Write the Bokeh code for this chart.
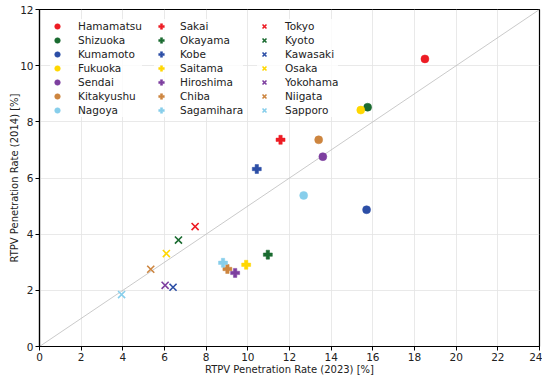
from bokeh.plotting import figure
from bokeh.models import Legend, LegendItem, FixedTicker
from bokeh.embed import file_html
from bokeh.resources import INLINE

cities_circle = ["Hamamatsu", "Shizuoka", "Kumamoto", "Fukuoka", "Sendai", "Kitakyushu", "Nagoya"]
x_circle = [18.5, 15.75, 15.7, 15.42, 13.6, 13.4, 12.68]
y_circle = [10.24, 8.52, 4.87, 8.42, 6.76, 7.36, 5.38]

cities_plus = ["Sakai", "Okayama", "Kobe", "Saitama", "Hiroshima", "Chiba", "Sagamihara"]
x_plus = [11.57, 10.96, 10.43, 9.92, 9.39, 9.02, 8.81]
y_plus = [7.36, 3.27, 6.32, 2.91, 2.62, 2.76, 2.98]

cities_x = ["Tokyo", "Kyoto", "Kawasaki", "Osaka", "Yokohama", "Niigata", "Sapporo"]
x_x = [7.47, 6.67, 6.41, 6.09, 6.03, 5.34, 3.94]
y_x = [4.27, 3.79, 2.11, 3.31, 2.18, 2.75, 1.85]

colors = ["#ed1c24", "#1a6b30", "#2c4ea6", "#ffd700", "#7d3f9f", "#cd853f", "#87ceeb"]

x_ticks = list(range(0, 25, 2))
y_ticks = list(range(0, 13, 2))
diag_x = [0, 24]
diag_y = [0, 12]

FONT = "DejaVu Sans"

p = figure(frame_width=500, frame_height=337, x_range=(0, 24), y_range=(0, 12),
           output_backend="svg", toolbar_location=None,
           min_border_left=39, min_border_right=3, min_border_top=9, min_border_bottom=24)
p.background_fill_color = "white"
p.border_fill_color = "white"
p.outline_line_color = "black"
p.outline_line_width = 1.2

p.xaxis.ticker = FixedTicker(ticks=x_ticks)
p.yaxis.ticker = FixedTicker(ticks=y_ticks)
for ax in (p.xaxis[0], p.yaxis[0]):
    ax.major_label_text_font = FONT
    ax.major_label_text_font_size = "10.5px"
    ax.major_label_text_color = "#222222"
    ax.axis_label_text_font = FONT
    ax.axis_label_text_font_size = "10px"
    ax.axis_label_text_font_style = "normal"
    ax.axis_label_text_color = "#222222"
    ax.minor_tick_line_color = None
    ax.major_tick_in = 0
    ax.major_tick_out = 4
    ax.major_tick_line_color = "black"
    ax.axis_line_color = "black"
    ax.axis_line_width = 1.2
    ax.major_label_standoff = 2
p.xaxis.axis_label = "RTPV Penetration Rate (2023) [%]"
p.yaxis.axis_label = "RTPV Penetration Rate (2014) [%]"
p.xaxis.axis_label_standoff = 0
p.yaxis.axis_label_standoff = -3

p.xgrid.grid_line_color = "#e3e3e3"
p.ygrid.grid_line_color = "#e3e3e3"
p.xgrid.grid_line_width = 0.8
p.ygrid.grid_line_width = 0.8

p.line(diag_x, diag_y, line_color="#bdbdbd", line_width=0.8)

groups = [
    (cities_circle, x_circle, y_circle, "circle", 8, 11),
    (cities_plus, x_plus, y_plus, "plus", 9, 115),
    (cities_x, x_x, y_x, "x", 10, 218),
]
for names, xs, ys, marker, size, lx in groups:
    items = []
    for i, name in enumerate(names):
        if marker == "x":
            r = p.scatter([xs[i]], [ys[i]], marker="x", size=size, line_color=colors[i],
                          line_width=1.6)
        else:
            r = p.scatter([xs[i]], [ys[i]], marker=marker, size=size, fill_color=colors[i],
                          line_color=colors[i], line_width=0.5)
        items.append(LegendItem(label=name, renderers=[r]))
    leg = Legend(items=items, location=(lx, 229), orientation="vertical",
                 glyph_width=14, glyph_height=14, label_height=14, spacing=0,
                 padding=5, margin=0, label_standoff=14 if marker != "plus" else 12,
                 label_text_font=FONT, label_text_font_size="10.5px",
                 label_text_color="#222222",
                 border_line_color=None, background_fill_color="white",
                 background_fill_alpha=0.8)
    p.add_layout(leg, "center")

open("out.html", "w").write(file_html(p, INLINE))
